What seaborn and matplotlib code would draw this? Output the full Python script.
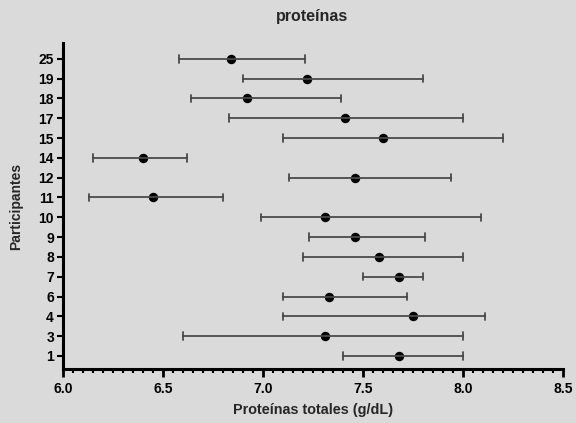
import numpy as np
import pandas as pd
import matplotlib
matplotlib.use("Agg")
import matplotlib.pyplot as plt
from matplotlib.ticker import MultipleLocator, FormatStrFormatter
import seaborn as sns

# Participants from top to bottom
participants = ["25", "19", "18", "17", "15", "14", "12", "11",
                "10", "9", "8", "7", "6", "4", "3", "1"]
# Mean total protein (g/dL) and range per participant
means = [6.84, 7.22, 6.92, 7.41, 7.60, 6.40, 7.46, 6.45,
         7.31, 7.46, 7.58, 7.68, 7.33, 7.75, 7.31, 7.68]
lows = [6.58, 6.90, 6.64, 6.83, 7.10, 6.15, 7.13, 6.13,
        6.99, 7.23, 7.20, 7.50, 7.10, 7.10, 6.60, 7.40]
highs = [7.21, 7.80, 7.39, 8.00, 8.20, 6.62, 7.94, 6.80,
         8.09, 7.81, 8.00, 7.80, 7.72, 8.11, 8.00, 8.00]

x_ticks = [6.0, 6.5, 7.0, 7.5, 8.0, 8.5]

# Long table: each participant contributes low, mean and high values,
# so the median is the mean and min/max give the whisker ends.
rows = []
for p, lo, m, hi in zip(participants, lows, means, highs):
    for v in (lo, m, hi):
        rows.append({"Participantes": p, "valor": v})
df = pd.DataFrame(rows)

bg = "#dadada"
sns.set_style("ticks", {"axes.facecolor": bg, "figure.facecolor": bg})
plt.rcParams["font.family"] = ["Liberation Sans", "DejaVu Sans"]
plt.rcParams["font.weight"] = "bold"

fig = plt.figure(figsize=(5.76, 4.23), dpi=100)
ax = fig.add_axes([63 / 576, 1 - 369 / 423, 500 / 576, 326 / 423])

sns.pointplot(
    data=df, x="valor", y="Participantes", order=participants,
    estimator="median", errorbar=lambda v: (v.min(), v.max()),
    linestyle="none", color="black", markersize=6.8, markeredgewidth=0,
    capsize=0.38,
    err_kws={"color": "#4a4a4a", "linewidth": 1.3},
    ax=ax,
)

ax.set_xlim(6.0, 8.5)
ax.set_ylim(len(participants) - 1 + 0.66, -0.8)
ax.set_xticks(x_ticks)
ax.xaxis.set_minor_locator(MultipleLocator(0.05))
ax.xaxis.set_major_formatter(FormatStrFormatter("%.1f"))

for side in ("top", "right"):
    ax.spines[side].set_visible(False)
for side in ("left", "bottom"):
    ax.spines[side].set_linewidth(2.2)
    ax.spines[side].set_color("black")

ax.tick_params(axis="x", which="major", length=5.5, width=2, labelsize=10,
               colors="black", pad=4)
ax.tick_params(axis="x", which="minor", length=3, width=1.5, colors="black")
ax.tick_params(axis="y", length=4.5, width=1.5, labelsize=10, colors="black",
               pad=2)
for lbl in ax.get_xticklabels() + ax.get_yticklabels():
    lbl.set_fontweight("bold")

ax.set_xlabel("Proteínas totales (g/dL)", fontsize=10.4, fontweight="bold",
              labelpad=5)
ax.set_ylabel("Participantes", fontsize=10, fontweight="bold", labelpad=11)
fig.text(312 / 576, 1 - 17 / 423, "proteínas", ha="center",
         va="center", fontsize=11.5, fontweight="bold")

fig.savefig("out.png", dpi=100, facecolor=bg)
